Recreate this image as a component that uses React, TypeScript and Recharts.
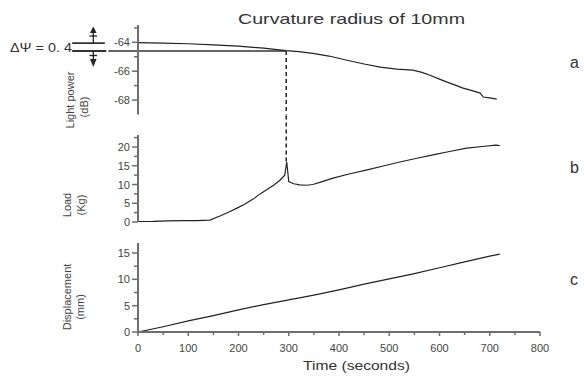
import React from 'react';
import { LineChart, Line, XAxis, YAxis, ReferenceLine } from 'recharts';

// Panel a: light power (dB)
const timeA = [0, 50, 100, 150, 200, 250, 295, 320, 348, 380, 416, 450, 482, 515, 547, 565, 581, 600, 615, 630, 647, 665, 681, 687, 700, 714];
const powerA = [-64.02, -64.05, -64.1, -64.17, -64.27, -64.4, -64.58, -64.65, -64.76, -64.95, -65.24, -65.5, -65.72, -65.85, -65.93, -66.08, -66.28, -66.55, -66.76, -66.95, -67.17, -67.35, -67.52, -67.79, -67.85, -67.93];

// Panel b: load (Kg)
const timeB = [0, 30, 58, 90, 117, 143, 163, 180, 197, 213, 229, 243, 256, 270, 283, 292, 296, 300, 310, 322, 335, 348, 365, 388, 420, 456, 490, 521, 555, 587, 620, 654, 690, 712, 720];
const loadB = [0.1, 0.15, 0.3, 0.35, 0.35, 0.5, 1.6, 2.6, 3.7, 4.8, 6.1, 7.5, 8.6, 9.8, 11.2, 12.5, 16.0, 10.8, 10.2, 9.9, 9.8, 10.0, 10.7, 11.7, 12.8, 13.9, 15.0, 16.0, 17.0, 17.9, 18.8, 19.7, 20.2, 20.5, 20.4];

// Panel c: displacement (mm)
const timeC = [0, 50, 100, 150, 200, 250, 300, 350, 400, 450, 500, 550, 600, 650, 700, 720];
const dispC = [0, 1.0, 2.1, 3.1, 4.2, 5.2, 6.1, 7.0, 8.0, 9.1, 10.1, 11.1, 12.2, 13.3, 14.4, 14.8];

const xTicks = [0, 50, 100, 150, 200, 250, 300, 350, 400, 450, 500, 550, 600, 650, 700, 750, 800];
const yTicksA = [-68, -67, -66, -65, -64, -63];
const yTicksB = [0, 2.5, 5, 7.5, 10, 12.5, 15, 17.5, 20, 22.5];
const yTicksC = [0, 2.5, 5, 7.5, 10, 12.5, 15];

const eventTime = 295;
const levelA = -64.6;
const startLevelA = -64.05;
const peakB = 16;

const title = 'Curvature radius of 10mm';
const xTitle = 'Time (seconds)';
const panelLetters = ['a', 'b', 'c'];
const deltaLabel = 'ΔΨ = 0. 4';

const dataA = timeA.map((t, i) => ({ t, v: powerA[i] }));
const dataB = timeB.map((t, i) => ({ t, v: loadB[i] }));
const dataC = timeC.map((t, i) => ({ t, v: dispC[i] }));

const FONT = '"Liberation Sans", Arial, sans-serif';
const AXIS = '#6e6e6e';
const TXT = '#444';
const INK = '#222';

const makeYTick = (isMajor: (v: number) => boolean) => (props: any) => {
  const { x, y, payload } = props;
  const v = payload.value;
  const major = isMajor(v);
  return (
    <g>
      <line x1={x - (major ? 6 : 4)} x2={x} y1={y} y2={y} stroke={AXIS} strokeWidth={1.5} />
      {major && (
        <text x={x - 8} y={y + 4} textAnchor="end" fontSize={11} fontFamily={FONT} fill={TXT}>
          {v}
        </text>
      )}
    </g>
  );
};

const XTick = (props: any) => {
  const { x, y, payload } = props;
  const v = payload.value;
  const major = v % 100 === 0;
  return (
    <g>
      <line x1={x} x2={x} y1={y} y2={y + (major ? 4 : 3)} stroke={AXIS} strokeWidth={1.5} />
      {major && (
        <text x={x} y={y + 19.5} textAnchor="middle" fontSize={11} fontFamily={FONT} fill={TXT}>
          {v}
        </text>
      )}
    </g>
  );
};

const abs: React.CSSProperties = { position: 'absolute', left: 0, top: 0 };
const axisLine = { stroke: AXIS, strokeWidth: 2 };

export default function App() {
  return (
    <div style={{ position: 'absolute', left: 0, top: 0, width: 584, height: 376, background: '#fff', fontFamily: FONT }}>
      {/* Panel a */}
      <div style={abs}>
        <LineChart width={584} height={376} data={dataA} margin={{ top: 25, right: 44, bottom: 261.5, left: 78 }}>
          <XAxis type="number" dataKey="t" domain={[0, 800]} tick={false} tickLine={false} height={0} axisLine={axisLine} />
          <YAxis type="number" domain={[-69, -62.8]} ticks={yTicksA} interval={0} width={60} tickSize={0} tickMargin={0} tickLine={false}
            tick={makeYTick((v) => Math.abs(v) % 2 === 0)} axisLine={axisLine} allowDataOverflow />
          <ReferenceLine segment={[{ x: -131, y: startLevelA }, { x: -66, y: startLevelA }]} stroke="#333" strokeWidth={1.8} ifOverflow="visible" />
          <ReferenceLine segment={[{ x: -131, y: levelA }, { x: -63, y: levelA }]} stroke="#333" strokeWidth={1.8} ifOverflow="visible" />
          <ReferenceLine segment={[{ x: -59, y: levelA }, { x: eventTime, y: levelA }]} stroke="#333" strokeWidth={1.5} ifOverflow="visible" />
          <ReferenceLine segment={[{ x: eventTime, y: levelA }, { x: eventTime, y: -69 }]} stroke={INK} strokeWidth={1.5} strokeDasharray="4 3" ifOverflow="visible" />
          <Line type="linear" dataKey="v" stroke={INK} strokeWidth={1.2} dot={false} isAnimationActive={false} />
        </LineChart>
      </div>
      {/* Panel b */}
      <div style={abs}>
        <LineChart width={584} height={376} data={dataB} margin={{ top: 135, right: 44, bottom: 154, left: 78 }}>
          <XAxis type="number" dataKey="t" domain={[0, 800]} tick={false} tickLine={false} height={0} axisLine={axisLine} />
          <YAxis type="number" domain={[0, 23.2]} ticks={yTicksB} interval={0} width={60} tickSize={0} tickMargin={0} tickLine={false}
            tick={makeYTick((v) => v % 5 === 0)} axisLine={axisLine} allowDataOverflow />
          <ReferenceLine segment={[{ x: eventTime, y: 28.4 }, { x: eventTime, y: peakB }]} stroke={INK} strokeWidth={1.5} strokeDasharray="4 3" ifOverflow="visible" />
          <Line type="linear" dataKey="v" stroke={INK} strokeWidth={1.2} dot={false} isAnimationActive={false} />
        </LineChart>
      </div>
      {/* Panel c */}
      <div style={abs}>
        <LineChart width={584} height={376} data={dataC} margin={{ top: 243, right: 44, bottom: 14, left: 78 }}>
          <XAxis type="number" dataKey="t" domain={[0, 800]} ticks={xTicks} interval={0} height={30} tickSize={0} tickMargin={0} tickLine={false}
            tick={<XTick />} axisLine={axisLine} />
          <YAxis type="number" domain={[0, 16.9]} ticks={yTicksC} interval={0} width={60} tickSize={0} tickMargin={0} tickLine={false}
            tick={makeYTick((v) => v % 5 === 0)} axisLine={axisLine} allowDataOverflow />
          <Line type="linear" dataKey="v" stroke={INK} strokeWidth={1.2} dot={false} isAnimationActive={false} />
        </LineChart>
      </div>
      {/* Text and annotation overlay */}
      <svg width={584} height={376} style={{ ...abs, pointerEvents: 'none' }}>
        <text x={238} y={24} fontSize={15} fill="#333" fontFamily={FONT} textLength={227} lengthAdjust="spacingAndGlyphs">{title}</text>
        <text x={303} y={370} fontSize={13} fill="#333" fontFamily={FONT} textLength={107} lengthAdjust="spacingAndGlyphs">{xTitle}</text>
        <text x={570} y={68} fontSize={16} fill="#333" fontFamily={FONT}>{panelLetters[0]}</text>
        <text x={570} y={173} fontSize={16} fill="#333" fontFamily={FONT}>{panelLetters[1]}</text>
        <text x={570} y={285} fontSize={16} fill="#333" fontFamily={FONT}>{panelLetters[2]}</text>

        <g fontSize={11} fill={TXT} fontFamily={FONT} textAnchor="middle">
          <text transform="translate(74,100) rotate(-90)">Light power</text>
          <text transform="translate(88,107) rotate(-90)">(dB)</text>
          <text transform="translate(71,205) rotate(-90)">Load</text>
          <text transform="translate(85,205) rotate(-90)">(Kg)</text>
          <text transform="translate(71,297) rotate(-90)">Displacement</text>
          <text transform="translate(84,307) rotate(-90)">(mm)</text>
        </g>

        <text x={10} y={52} fontSize={12} fill="#333" fontFamily={FONT} textLength={62} lengthAdjust="spacingAndGlyphs">{deltaLabel}</text>
        {/* up arrow */}
        <line x1={93.3} x2={93.3} y1={30} y2={43.5} stroke="#222" strokeWidth={1.3} />
        <line x1={89.5} x2={97} y1={36} y2={36} stroke="#222" strokeWidth={1.3} />
        <polygon points="90,33 96.6,33 93.3,26.5" fill="#222" />
        {/* down arrow */}
        <line x1={93.3} x2={93.3} y1={51} y2={64} stroke="#222" strokeWidth={1.3} />
        <line x1={89.5} x2={97} y1={55.5} y2={55.5} stroke="#222" strokeWidth={1.3} />
        <polygon points="90,59 96.6,59 93.3,67" fill="#222" />
      </svg>
    </div>
  );
}
